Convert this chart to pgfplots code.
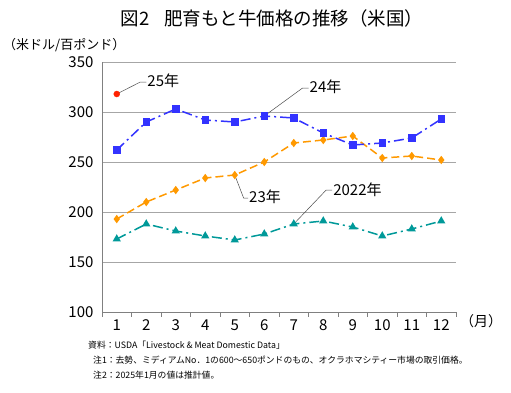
\documentclass[border=0pt]{standalone}
\usepackage{pgfplots}
\pgfplotsset{compat=1.18}
\usepackage{fontspec}
\setmainfont{Noto Sans CJK JP}
\definecolor{cblue}{HTML}{3333FF}
\definecolor{corange}{HTML}{FF9900}
\definecolor{cteal}{HTML}{009999}
\definecolor{cred}{HTML}{FF2200}
\begin{document}
\begin{tikzpicture}[x=1pt,y=1pt]
\useasboundingbox (0,0) rectangle (511,392);
\node[font=\fontsize{18.5}{22}\selectfont] at (272,374) {図2\hspace{0.8em}肥育もと牛価格の推移（米国）};
\node[anchor=west,font=\fontsize{13}{15}\selectfont,inner sep=0] at (3,347) {（米ドル/百ポンド）};
\node[anchor=west,font=\fontsize{14}{15}\selectfont,inner sep=0] at (460,71) {（月）};
\node[anchor=west,font=\fontsize{8.8}{10}\selectfont,inner sep=0] at (88,47) {資料：USDA「Livestock \& Meat Domestic Data」};
\node[anchor=west,font=\fontsize{8.8}{10}\selectfont,inner sep=0] at (93,32) {注1：去勢、ミディアムNo．1の600～650ポンドのもの、オクラホマシティー市場の取引価格。};
\node[anchor=west,font=\fontsize{8.8}{10}\selectfont,inner sep=0] at (93,17) {注2：2025年1月の値は推計値。};
\begin{axis}[
  at={(102pt,80pt)}, anchor=south west,
  width=354pt, height=250pt, scale only axis,
  xmin=0.5, xmax=12.5, ymin=100, ymax=350,
  xtick={1,...,12},
  xticklabel style={yshift=-4pt},
  ytick={100,150,...,350},
  axis x line*=bottom, axis y line*=left,
  axis line style={gray, line width=0.8pt},
  ymajorgrids, major grid style={gray!70, line width=0.8pt},
  major tick length=0pt,
  ticklabel style={font=\fontsize{15}{17}\selectfont},
  /pgf/number format/assume math mode=true,
  yticklabel style={xshift=-5pt},
  clip=false,
]
\pgfplotsinvokeforeach{0.5,1.5,...,12.5}{\draw[gray, line width=0.8pt] (axis cs:#1,100) -- ([yshift=-5pt]axis cs:#1,100);}
\addplot[cteal, line width=1.5pt, dash pattern=on 10pt off 4pt on 2pt off 4pt, mark=triangle*, mark size=3.3pt, mark options={solid}] coordinates {
(1,173) (2,188) (3,181) (4,176) (5,172) (6,178) (7,188) (8,191) (9,185) (10,176) (11,183) (12,191)};
\addplot[corange, line width=1.5pt, dash pattern=on 8pt off 4pt, mark=diamond*, mark size=3pt, mark options={solid}] coordinates {
(1,193) (2,210) (3,222) (4,234) (5,237) (6,250) (7,269) (8,272) (9,276) (10,254) (11,256) (12,252)};
\addplot[cblue, line width=1.5pt, dash pattern=on 10pt off 4pt on 2pt off 4pt, mark=square*, mark size=3pt, mark options={solid}] coordinates {
(1,262) (2,290) (3,303) (4,292) (5,290) (6,296) (7,294) (8,279) (9,267) (10,269) (11,274) (12,293)};
\addplot[cred, only marks, mark=*, mark size=3pt] coordinates {(1,318)};
\draw[gray!60!black, line width=0.5pt] (axis cs:1,318) -- (axis cs:1.8,330) -- (axis cs:2.0,330);
\node[anchor=west, font=\fontsize{15}{17}\selectfont, inner sep=1pt] at (axis cs:2.0,331) {25年};
\draw[gray!60!black, line width=0.5pt] (axis cs:6,296) -- (axis cs:7.3,324) -- (axis cs:7.5,324);
\node[anchor=west, font=\fontsize{15}{17}\selectfont, inner sep=1pt] at (axis cs:7.5,325) {24年};
\draw[gray!60!black, line width=0.5pt] (axis cs:5,237) -- (axis cs:5.3,214) -- (axis cs:5.45,214);
\node[anchor=west, font=\fontsize{15}{17}\selectfont, inner sep=1pt] at (axis cs:5.45,215) {23年};
\draw[gray!60!black, line width=0.5pt] (axis cs:7,188) -- (axis cs:8.1,222) -- (axis cs:8.3,222);
\node[anchor=west, font=\fontsize{15}{17}\selectfont, inner sep=1pt] at (axis cs:8.3,222) {2022年};
\end{axis}
\end{tikzpicture}
\end{document}
